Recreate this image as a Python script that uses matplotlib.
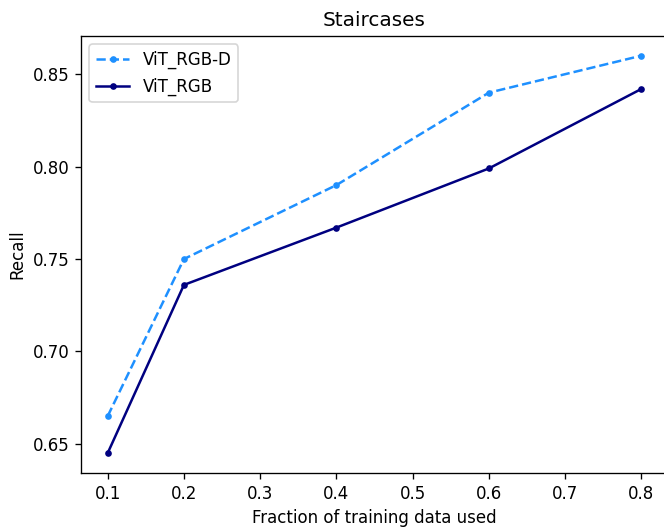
import matplotlib
matplotlib.use("Agg")
import matplotlib.pyplot as plt

# fraction of training data
fractions = [0.1, 0.2, 0.4, 0.6, 0.8]

# recall per model
recall_rgbd = [0.665, 0.750, 0.790, 0.840, 0.860]
recall_rgb = [0.645, 0.736, 0.767, 0.799, 0.842]

DPI = 120
fig = plt.figure(figsize=(664 / DPI, 527 / DPI), dpi=DPI)
# the original figure is cut off on the right, so the axes run past the edge
ax = fig.add_axes([81 / 664, 0.1025, 587 / 664, 0.8295])

ax.plot(fractions, recall_rgbd, linestyle='--', marker='.', color='dodgerblue', label='ViT_RGB-D')
ax.plot(fractions, recall_rgb, linestyle='-', marker='.', color='navy', label='ViT_RGB')

ax.set_xticks([0.1, 0.2, 0.3, 0.4, 0.5, 0.6, 0.7, 0.8])
ax.set_yticks([0.65, 0.70, 0.75, 0.80, 0.85])
ax.set_xlabel('Fraction of training data used')
ax.set_ylabel('Recall')
ax.set_title('Staircases')
ax.legend(loc='upper left')

plt.savefig('out.png', dpi=DPI)
